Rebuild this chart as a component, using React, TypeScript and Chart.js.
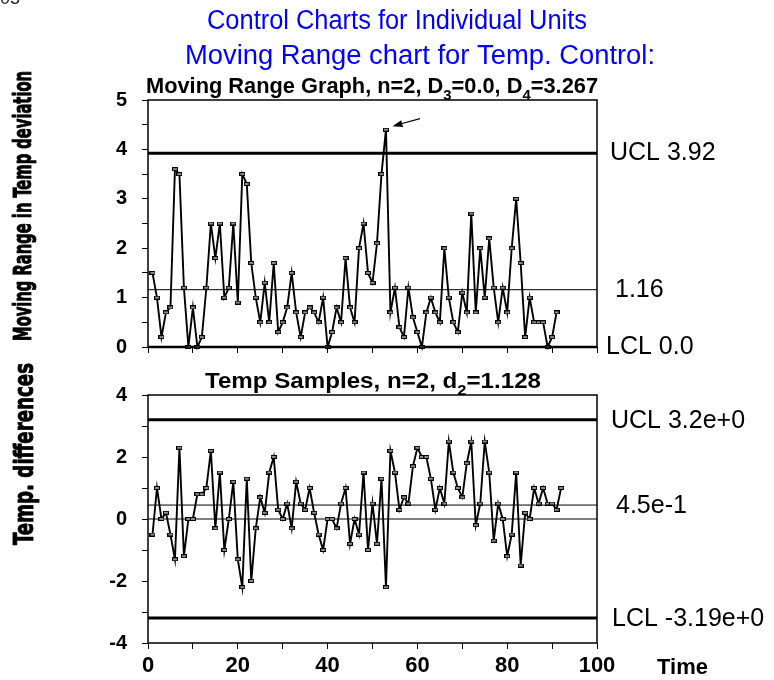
import React, { useEffect, useRef } from 'react';
import { Chart, registerables } from 'chart.js';

Chart.register(...registerables);

// Moving range between consecutive temperature differences, samples 1..91
const MOVING_RANGE: number[] = [
  1.5, 1.0, 0.2, 0.7, 0.8, 3.6, 3.5, 1.2, 0.0, 0.8,
  0.0, 0.2, 1.2, 2.5, 1.8, 2.5, 1.0, 1.2, 2.5, 0.9,
  3.5, 3.3, 1.7, 1.0, 0.5, 1.3, 0.5, 1.7, 0.3, 0.5,
  0.8, 1.5, 0.7, 0.2, 0.7, 0.8, 0.7, 0.5, 1.0, 0.0,
  0.3, 0.8, 0.5, 1.8, 0.8, 0.5, 2.0, 2.5, 1.5, 1.3,
  2.1, 3.5, 4.4, 0.7, 1.2, 0.4, 0.2, 1.2, 0.6, 0.3,
  0.0, 0.7, 1.0, 0.7, 0.5, 2.0, 1.0, 0.5, 0.3, 1.1,
  0.7, 2.7, 0.7, 2.0, 1.0, 2.2, 1.2, 0.5, 1.2, 0.7,
  2.0, 3.0, 1.7, 0.2, 1.0, 0.5, 0.5, 0.5, 0.0, 0.2,
  0.7,
];

// Individual temperature differences, samples 1..92
const TEMP_DIFFERENCES: number[] = [
  -0.5, 1.0, 0.0, 0.2, -0.5, -1.3, 2.3, -1.2, 0.0, 0.0,
  0.8, 0.8, 1.0, 2.2, -0.3, 1.5, -1.0, 0.0, 1.2, -1.3,
  -2.2, 1.3, -2.0, -0.3, 0.7, 0.2, 1.5, 2.0, 0.3, 0.0,
  0.5, -0.3, 1.2, 0.5, 0.3, 1.0, 0.2, -0.5, -1.0, 0.0,
  0.0, -0.3, 0.5, 1.0, -0.8, 0.0, -0.5, 1.5, -1.0, 0.5,
  -0.8, 1.3, -2.2, 2.2, 1.5, 0.3, 0.7, 0.5, 1.7, 2.3,
  2.0, 2.0, 1.3, 0.3, 1.0, 0.5, 2.5, 1.5, 1.0, 0.7,
  1.8, 2.5, -0.2, 0.5, 2.5, 1.5, -0.7, 0.5, 0.0, -1.2,
  -0.5, 1.5, -1.5, 0.2, 0.0, 1.0, 0.5, 1.0, 0.5, 0.5,
  0.3, 1.0,
];

// Control limits of the moving range chart
const MR_LIMITS: number[] = [3.92, 1.16, 0.0];
const MR_LIMIT_TEXT: string[] = ['UCL 3.92', '1.16', 'LCL 0.0'];

// Control limits of the individuals chart
const IND_LIMITS: number[] = [3.2, 0.45, -3.19];
const IND_LIMIT_TEXT: string[] = ['UCL 3.2e+0', '4.5e-1', 'LCL -3.19e+0'];
const IND_ZERO = 0;

const SANS = '"Liberation Sans", Arial, Helvetica, sans-serif';
const COND = '"DejaVu Sans Condensed", "DejaVu Sans", sans-serif';

type Seg = { t: string; sub?: boolean };

// Draws a line of text (with optional subscripts) from a left edge,
// squeezed or stretched to a given width.
function drawRich(
  ctx: CanvasRenderingContext2D,
  segs: Seg[],
  left: number,
  baseline: number,
  size: number,
  weight: string,
  color: string,
  fitWidth?: number
) {
  const main = `${weight} ${size}px ${SANS}`;
  const sub = `${weight} ${Math.round(size * 0.68)}px ${SANS}`;
  const widths = segs.map((s) => {
    ctx.font = s.sub ? sub : main;
    return ctx.measureText(s.t).width;
  });
  const total = widths.reduce((a, b) => a + b, 0);
  const sx = fitWidth ? fitWidth / total : 1;
  ctx.save();
  ctx.translate(left, baseline);
  ctx.scale(sx, 1);
  ctx.fillStyle = color;
  ctx.textAlign = 'left';
  ctx.textBaseline = 'alphabetic';
  let cx = 0;
  segs.forEach((s, i) => {
    ctx.font = s.sub ? sub : main;
    ctx.fillText(s.t, cx, s.sub ? size * 0.3 : 0);
    cx += widths[i];
  });
  ctx.restore();
}

// Vertical axis caption, reading bottom to top, fitted to a length.
function drawVertical(
  ctx: CanvasRenderingContext2D,
  text: string,
  baselineX: number,
  centerY: number,
  size: number,
  length: number
) {
  ctx.save();
  ctx.font = `bold ${size}px ${COND}`;
  const w = ctx.measureText(text).width;
  ctx.translate(baselineX, centerY);
  ctx.rotate(-Math.PI / 2);
  ctx.scale(length / w, 1);
  ctx.fillStyle = '#000';
  ctx.strokeStyle = '#000';
  ctx.lineWidth = 0.9;
  ctx.lineJoin = 'round';
  ctx.textAlign = 'center';
  ctx.textBaseline = 'alphabetic';
  ctx.fillText(text, 0, 0);
  ctx.strokeText(text, 0, 0);
  ctx.restore();
}

function drawFrame(chart: any) {
  const { ctx, chartArea: a } = chart;
  ctx.save();
  ctx.strokeStyle = '#000';
  ctx.lineWidth = 1.5;
  ctx.strokeRect(a.left, a.top, a.right - a.left, a.bottom - a.top);
  ctx.restore();
}

function drawLimitText(chart: any, values: number[], texts: string[], lefts: number[], dy: number) {
  const { ctx } = chart;
  const y = chart.scales.y;
  ctx.save();
  ctx.font = `25px ${SANS}`;
  ctx.fillStyle = '#000';
  ctx.textAlign = 'left';
  ctx.textBaseline = 'middle';
  values.forEach((v, i) => {
    ctx.fillText(texts[i], lefts[i], y.getPixelForValue(v) + dy);
  });
  ctx.restore();
}

const movingRangeDecor = {
  id: 'movingRangeDecor',
  afterDraw(chart: any) {
    const { ctx, scales } = chart;
    drawFrame(chart);
    drawLimitText(chart, MR_LIMITS, MR_LIMIT_TEXT, [610, 615, 606], 0);

    // arrow pointing at the out-of-control range
    const peak = MOVING_RANGE.findIndex((v) => v > MR_LIMITS[0]);
    if (peak >= 0) {
      const px = scales.x.getPixelForValue(peak + 1);
      const py = scales.y.getPixelForValue(MOVING_RANGE[peak]);
      const tipX = px + 6.5;
      const tipY = py - 3.5;
      const tailX = px + 34;
      const tailY = py - 11;
      const dx = tipX - tailX;
      const dy = tipY - tailY;
      const len = Math.hypot(dx, dy);
      const ux = dx / len;
      const uy = dy / len;
      const headLen = 10;
      const half = 3.5;
      const bx = tipX - ux * headLen;
      const by = tipY - uy * headLen;
      ctx.save();
      ctx.strokeStyle = '#000';
      ctx.fillStyle = '#000';
      ctx.lineWidth = 1.2;
      ctx.beginPath();
      ctx.moveTo(tailX, tailY);
      ctx.lineTo(bx, by);
      ctx.stroke();
      ctx.beginPath();
      ctx.moveTo(tipX, tipY);
      ctx.lineTo(bx - uy * half, by + ux * half);
      ctx.lineTo(bx + uy * half, by - ux * half);
      ctx.closePath();
      ctx.fill();
      ctx.restore();
    }

    // headings
    ctx.save();
    ctx.font = `18px ${SANS}`;
    ctx.fillStyle = '#222';
    ctx.textAlign = 'left';
    ctx.textBaseline = 'alphabetic';
    ctx.fillText('05', 0, 4);
    ctx.restore();
    drawRich(ctx, [{ t: 'Control Charts for Individual Units' }], 207, 29, 27, 'normal', '#0000ff', 380);
    drawRich(ctx, [{ t: 'Moving Range chart for Temp. Control:' }], 185, 64, 27, 'normal', '#0000ff', 470);
    drawRich(
      ctx,
      [
        { t: 'Moving Range Graph, n=2, D' },
        { t: '3', sub: true },
        { t: '=0.0, D' },
        { t: '4', sub: true },
        { t: '=3.267' },
      ],
      146,
      93,
      22,
      'bold',
      '#000',
      452
    );
    drawVertical(ctx, 'Moving Range in Temp deviation', 30.5, 206, 24, 270);
  },
};

const individualsDecor = {
  id: 'individualsDecor',
  afterDraw(chart: any) {
    const { ctx, chartArea: a } = chart;
    drawFrame(chart);
    drawLimitText(chart, IND_LIMITS, IND_LIMIT_TEXT, [611, 616, 612], 1);
    drawRich(
      ctx,
      [{ t: 'Temp Samples, n=2, d' }, { t: '2', sub: true }, { t: '=1.128' }],
      205,
      28,
      22,
      'bold',
      '#000',
      336
    );
    drawVertical(ctx, 'Temp. differences', 33, 94, 27, 182);
    ctx.save();
    ctx.font = `bold 22px ${SANS}`;
    ctx.fillStyle = '#000';
    ctx.textAlign = 'left';
    ctx.textBaseline = 'alphabetic';
    ctx.fillText('Time', 657, a.bottom + 31);
    ctx.restore();
  },
};

function makeMarker(): HTMLCanvasElement {
  const c = document.createElement('canvas');
  c.width = 6;
  c.height = 4;
  const g = c.getContext('2d')!;
  g.fillStyle = '#000';
  g.fillRect(0, 0, 6, 4);
  g.fillStyle = '#8c8c8c';
  g.fillRect(1, 1, 4, 2);
  return c;
}

function limitLine(value: number, width: number) {
  return {
    data: [
      { x: 0, y: value },
      { x: 100, y: value },
    ],
    borderColor: '#000',
    borderWidth: width,
    pointRadius: 0,
    clip: false as const,
    order: 1,
  };
}

function seriesDataset(values: number[], marker: HTMLCanvasElement) {
  return {
    data: values.map((v, i) => ({ x: i + 1, y: v })),
    borderColor: '#000',
    borderWidth: 1.9,
    pointStyle: marker,
    pointRadius: 3,
    tension: 0,
    clip: false as const,
    order: 0,
  };
}

const tickGrid = {
  drawOnChartArea: false,
  drawTicks: true,
  tickLength: 6,
  tickColor: '#000',
  tickWidth: 1,
};

// canvas heights; the lower canvas overlaps the upper one slightly
const TOP_H = 385;
const BOTTOM_TOP = 360;
const BOTTOM_H = 320;

export default function App() {
  const topRef = useRef<HTMLCanvasElement>(null);
  const bottomRef = useRef<HTMLCanvasElement>(null);

  useEffect(() => {
    const marker = makeMarker();

    const top = new Chart(topRef.current!, {
      type: 'line',
      data: {
        datasets: [
          seriesDataset(MOVING_RANGE, marker),
          limitLine(MR_LIMITS[0], 3),
          limitLine(MR_LIMITS[1], 1),
          limitLine(MR_LIMITS[2], 2.5),
        ] as any,
      },
      options: {
        responsive: false,
        animation: false,
        events: [],
        layout: { padding: { top: 100, right: 177, bottom: 0, left: 0 } },
        plugins: { legend: { display: false }, tooltip: { enabled: false } },
        scales: {
          x: {
            type: 'linear',
            min: 0,
            max: 100,
            afterFit: (s: any) => {
              s.height = TOP_H - 347;
            },
            ticks: { stepSize: 10, autoSkip: false, callback: () => '' },
            grid: tickGrid,
            border: { display: false },
          },
          y: {
            min: 0,
            max: 5,
            afterFit: (s: any) => {
              s.width = 148;
            },
            ticks: {
              stepSize: 0.5,
              autoSkip: false,
              padding: 15,
              color: '#000',
              font: { family: SANS, size: 20, weight: 'bold' },
              callback: (v: any) => (Number.isInteger(v) ? String(v) : ''),
            },
            grid: tickGrid,
            border: { display: false },
          },
        },
      } as any,
      plugins: [movingRangeDecor],
    });

    const bottom = new Chart(bottomRef.current!, {
      type: 'line',
      data: {
        datasets: [
          seriesDataset(TEMP_DIFFERENCES, marker),
          limitLine(IND_LIMITS[0], 3),
          limitLine(IND_LIMITS[1], 1),
          limitLine(IND_LIMITS[2], 3),
          limitLine(IND_ZERO, 1),
        ] as any,
      },
      options: {
        responsive: false,
        animation: false,
        events: [],
        layout: { padding: { top: 395 - BOTTOM_TOP, right: 177, bottom: 0, left: 0 } },
        plugins: { legend: { display: false }, tooltip: { enabled: false } },
        scales: {
          x: {
            type: 'linear',
            min: 0,
            max: 100,
            afterFit: (s: any) => {
              s.height = BOTTOM_TOP + BOTTOM_H - 643;
            },
            ticks: {
              stepSize: 10,
              autoSkip: false,
              maxRotation: 0,
              padding: 4,
              color: '#000',
              font: { family: SANS, size: 22, weight: 'bold' },
              callback: (v: any) => (v % 20 === 0 ? String(v) : ''),
            },
            grid: tickGrid,
            border: { display: false },
          },
          y: {
            min: -4,
            max: 4,
            afterFit: (s: any) => {
              s.width = 148;
            },
            ticks: {
              stepSize: 1,
              autoSkip: false,
              padding: 15,
              color: '#000',
              font: { family: SANS, size: 20, weight: 'bold' },
              callback: (v: any) => (v % 2 === 0 ? String(v) : ''),
            },
            grid: tickGrid,
            border: { display: false },
          },
        },
      } as any,
      plugins: [individualsDecor],
    });

    return () => {
      top.destroy();
      bottom.destroy();
    };
  }, []);

  return (
    <div
      style={{
        position: 'fixed',
        left: 0,
        top: 0,
        width: 774,
        height: 680,
        background: '#fff',
        overflow: 'hidden',
      }}
    >
      <canvas
        ref={topRef}
        width={774}
        height={TOP_H}
        style={{ position: 'absolute', left: 0, top: 0, width: 774, height: TOP_H }}
      />
      <canvas
        ref={bottomRef}
        width={774}
        height={BOTTOM_H}
        style={{ position: 'absolute', left: 0, top: BOTTOM_TOP, width: 774, height: BOTTOM_H }}
      />
    </div>
  );
}
